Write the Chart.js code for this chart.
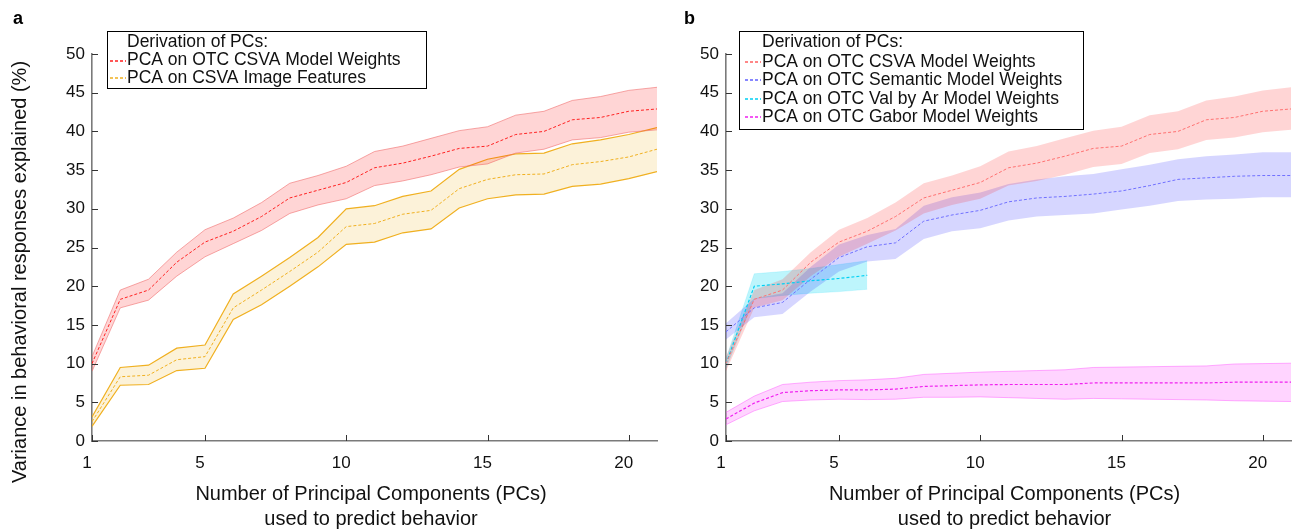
<!DOCTYPE html>
<html><head><meta charset="utf-8">
<script src="https://cdn.jsdelivr.net/npm/chart.js@4/dist/chart.umd.min.js"></script>
<style>
html,body{margin:0;padding:0;background:#fff;}
#wrap{position:relative;width:1296px;height:530px;overflow:hidden;font-family:"Liberation Sans",Arial,sans-serif;}
.cv{position:absolute;top:0;width:660px;height:530px;}
#ca{left:0;}
#cb{left:636px;}
.tag{position:absolute;font-weight:bold;font-size:18px;line-height:18px;color:#000;}
</style></head>
<body><div id="wrap">
<div class="cv" id="ca"><canvas id="chartA" width="660" height="530"></canvas></div>
<div class="cv" id="cb"><canvas id="chartB" width="660" height="530"></canvas></div>
<div class="tag" style="left:13px;top:9px">a</div>
<div class="tag" style="left:684px;top:9px">b</div>
</div>
<script>
// ---------------- data ----------------
const pcCount = [1,2,3,4,5,6,7,8,9,10,11,12,13,14,15,16,17,18,19,20,21];
const xTickValues = [1,5,10,15,20];

const csvaMean = [10.0,18.3,19.5,23.1,25.7,27.1,29.0,31.4,32.4,33.4,35.3,35.9,36.8,37.8,38.1,39.6,40.0,41.5,41.8,42.6,42.9];
const csvaHigh = [10.9,19.5,20.9,24.4,27.3,28.8,30.8,33.3,34.3,35.5,37.4,38.1,39.1,40.1,40.6,42.1,42.6,44.0,44.5,45.3,45.7];
const csvaLow  = [9.0,17.2,18.2,21.3,23.8,25.5,27.2,29.4,30.5,31.3,33.0,33.6,34.4,35.4,35.8,37.2,37.7,38.9,39.2,39.9,40.2];

const imgMean = [2.5,8.3,8.5,10.5,10.9,17.2,19.5,21.9,24.4,27.7,28.1,29.3,29.8,32.6,33.8,34.4,34.5,35.7,36.1,36.7,37.7];
const imgHigh = [3.1,9.5,9.8,12.0,12.4,19.0,21.3,23.7,26.3,30.0,30.4,31.6,32.3,35.1,36.4,37.1,37.2,38.4,38.9,39.6,40.5];
const imgLow  = [1.9,7.2,7.3,9.1,9.4,15.7,17.6,20.0,22.5,25.4,25.7,26.9,27.4,30.1,31.3,31.8,31.9,32.9,33.2,33.9,34.8];

const semMean = [14.1,17.2,17.9,20.9,23.7,25.1,25.6,28.4,29.2,29.8,30.9,31.4,31.6,31.9,32.3,33.0,33.8,34.0,34.2,34.3,34.3];
const semHigh = [15.2,18.4,19.1,22.5,25.4,26.6,27.4,30.4,31.5,32.1,33.2,33.8,34.2,34.5,35.1,35.7,36.4,36.8,37.0,37.3,37.3];
const semLow  = [13.1,16.0,16.4,19.3,21.9,23.2,23.5,26.1,27.1,27.5,28.5,29.0,29.2,29.4,29.9,30.4,31.0,31.2,31.3,31.5,31.5];

const valArMean = [10.0,20.0,20.3,20.7,21.0,21.4];
const valArHigh = [10.6,21.6,21.9,22.3,22.8,23.3];
const valArLow  = [9.4,18.4,18.8,19.1,19.3,19.6];

const gaborMean = [2.85,4.9,6.25,6.5,6.6,6.6,6.7,7.05,7.15,7.25,7.3,7.3,7.3,7.5,7.5,7.5,7.5,7.5,7.6,7.6,7.6];
const gaborHigh = [3.7,5.8,7.3,7.6,7.8,7.9,8.1,8.6,8.75,8.9,9.0,9.1,9.2,9.5,9.55,9.6,9.65,9.7,9.95,10.0,10.05];
const gaborLow  = [2.1,3.9,5.1,5.3,5.4,5.35,5.4,5.65,5.65,5.7,5.6,5.5,5.4,5.5,5.45,5.4,5.35,5.3,5.2,5.15,5.1];

const legendTitle = 'Derivation of PCs:';
const labelsA = ['PCA on OTC CSVA Model Weights','PCA on CSVA Image Features'];
const labelsB = ['PCA on OTC CSVA Model Weights','PCA on OTC Semantic Model Weights','PCA on OTC Val by Ar Model Weights','PCA on OTC Gabor Model Weights'];
const xTitleLines = ['Number of Principal Components (PCs)','used to predict behavior'];
const yTitle = 'Variance in behavioral responses explained (%)';

// ---------------- helpers ----------------
const pts = arr => arr.map((v,i)=>({x: pcCount[i], y: v}));
function band(label, low, high, fillColor, edgeColor, edgeW){
  return [
    {label: label+' low', data: pts(low), borderColor: edgeColor, borderWidth: edgeW, fill: false, order: 5},
    {label: label+' high', data: pts(high), borderColor: edgeColor, borderWidth: edgeW, fill: '-1', backgroundColor: fillColor, order: 5}
  ];
}
function meanLine(label, arr, color, w){
  return {label, data: pts(arr), borderColor: color, borderWidth: w, borderDash: [3,2], fill: false, order: 0};
}

const FONT = '"Liberation Sans", Arial, sans-serif';

const innerTicks = {
  id: 'innerTicks',
  afterDraw(chart){
    const {ctx, chartArea: a, scales: {x, y}} = chart;
    ctx.save(); ctx.strokeStyle = '#333'; ctx.lineWidth = 1;
    x.ticks.forEach(t => { const px = Math.round(x.getPixelForValue(t.value)) + 0.5;
      ctx.beginPath(); ctx.moveTo(px, a.bottom); ctx.lineTo(px, a.bottom - 6); ctx.stroke(); });
    y.ticks.forEach(t => { const py = Math.round(y.getPixelForValue(t.value)) + 0.5;
      ctx.beginPath(); ctx.moveTo(a.left, py); ctx.lineTo(a.left + 6, py); ctx.stroke(); });
    ctx.restore();
  }
};

function boxLegend(o){
  return {
    id: 'boxLegend',
    afterDraw(chart){
      const ctx = chart.ctx; ctx.save();
      ctx.fillStyle = '#fff'; ctx.fillRect(o.x, o.y, o.w, o.h);
      ctx.strokeStyle = '#000'; ctx.lineWidth = 1; ctx.strokeRect(o.x + 0.5, o.y + 0.5, o.w, o.h);
      ctx.font = '17.5px ' + FONT; ctx.textBaseline = 'middle'; ctx.textAlign = 'left'; ctx.fillStyle = '#111';
      ctx.fillText(o.title, o.textX, o.titleY);
      o.labels.forEach((lab, i) => {
        const yy = o.rowY + i * o.rowH;
        ctx.save(); ctx.strokeStyle = o.colors[i]; ctx.lineWidth = 1.4; ctx.setLineDash([3,2]);
        ctx.beginPath(); ctx.moveTo(o.sx0, Math.round(yy)); ctx.lineTo(o.sx1, Math.round(yy)); ctx.stroke(); ctx.restore();
        ctx.fillText(lab, o.textX, yy);
      });
      ctx.restore();
    }
  };
}

function axisTitles(o){
  return {
    id: 'axisTitles',
    afterDraw(chart){
      const ctx = chart.ctx; ctx.save();
      ctx.fillStyle = '#111'; ctx.font = '20px ' + FONT; ctx.textAlign = 'center'; ctx.textBaseline = 'middle';
      o.xLines.forEach((s, i) => ctx.fillText(s, o.xCenter, o.xY0 + i * o.lineH));
      if (o.yText){
        ctx.translate(o.yX, o.yCenter); ctx.rotate(-Math.PI/2); ctx.fillText(o.yText, 0, 0);
      }
      ctx.restore();
    }
  };
}

function makeOptions(yWidth, padRight){
  return {
    responsive: false, animation: false,
    layout: {padding: {top: 54, right: padRight, left: 0, bottom: 0}},
    elements: {point: {radius: 0, hoverRadius: 0}, line: {tension: 0}},
    plugins: {legend: {display: false}, tooltip: {enabled: false}},
    scales: {
      x: {type: 'linear', min: 1, max: 21,
        afterBuildTicks: s => { s.ticks = xTickValues.map(v => ({value: v})); },
        afterFit: s => { s.height = 89; },
        grid: {display: true, drawOnChartArea: false, drawTicks: false},
        border: {display: true, color: '#7a7a7a', width: 1.6},
        ticks: {padding: 12, labelOffset: -5, color: '#111', font: {family: FONT, size: 17}, maxRotation: 0, autoSkip: false}
      },
      y: {type: 'linear', min: 0, max: 50,
        afterFit: s => { s.width = yWidth; },
        grid: {display: true, drawOnChartArea: false, drawTicks: false},
        border: {display: true, color: '#7a7a7a', width: 1.6},
        ticks: {stepSize: 5, padding: 7, color: '#111', font: {family: FONT, size: 17}}
      }
    }
  };
}

// ---------------- chart a ----------------
const redFill = 'rgba(255,0,0,0.165)';
const colA = ['#ff2020', '#f0b020'];
new Chart(document.getElementById('chartA'), {
  type: 'line',
  data: {datasets: [
    meanLine(labelsA[0], csvaMean, colA[0], 1),
    meanLine(labelsA[1], imgMean, colA[1], 1),
    ...band('csva', csvaLow, csvaHigh, redFill, 'rgba(240,110,110,0.6)', 1),
    ...band('img', imgLow, imgHigh, 'rgba(240,176,32,0.17)', '#f0b020', 1.2)
  ]},
  options: makeOptions(92, 3),
  plugins: [innerTicks,
    axisTitles({xLines: xTitleLines, xCenter: 371, xY0: 494, lineH: 25, yText: yTitle, yX: 20, yCenter: 272}),
    boxLegend({x: 107, y: 31, w: 319, h: 57, title: legendTitle, titleY: 42, rowY: 60.5, rowH: 17.5, textX: 127, sx0: 110, sx1: 126,
      labels: labelsA, colors: colA})]
});

// ---------------- chart b ----------------
const colB = ['#ff6060', '#6060ff', '#00d0f4', '#f020f0'];
new Chart(document.getElementById('chartB'), {
  type: 'line',
  data: {datasets: [
    meanLine(labelsB[0], csvaMean, '#ff7070', 1),
    meanLine(labelsB[1], semMean, '#7070ff', 1),
    meanLine(labelsB[2], valArMean, colB[2], 1.2),
    meanLine(labelsB[3], gaborMean, colB[3], 1.2),
    ...band('csva', csvaLow, csvaHigh, redFill, 'rgba(255,0,0,0)', 0),
    ...band('sem', semLow, semHigh, 'rgba(0,0,255,0.16)', 'rgba(0,0,255,0)', 0),
    ...band('val', valArLow, valArHigh, 'rgba(0,215,245,0.26)', 'rgba(0,215,245,0.15)', 1),
    ...band('gabor', gaborLow, gaborHigh, 'rgba(255,0,255,0.17)', 'rgba(255,80,255,0.45)', 1)
  ]},
  options: makeOptions(90, 5),
  plugins: [innerTicks,
    axisTitles({xLines: xTitleLines, xCenter: 368.5, xY0: 494, lineH: 25}),
    boxLegend({x: 103, y: 31, w: 344, h: 98, title: legendTitle, titleY: 42, rowY: 62, rowH: 18.4, textX: 126, sx0: 109, sx1: 125,
      labels: labelsB, colors: colB})]
});
</script>
</body></html>
